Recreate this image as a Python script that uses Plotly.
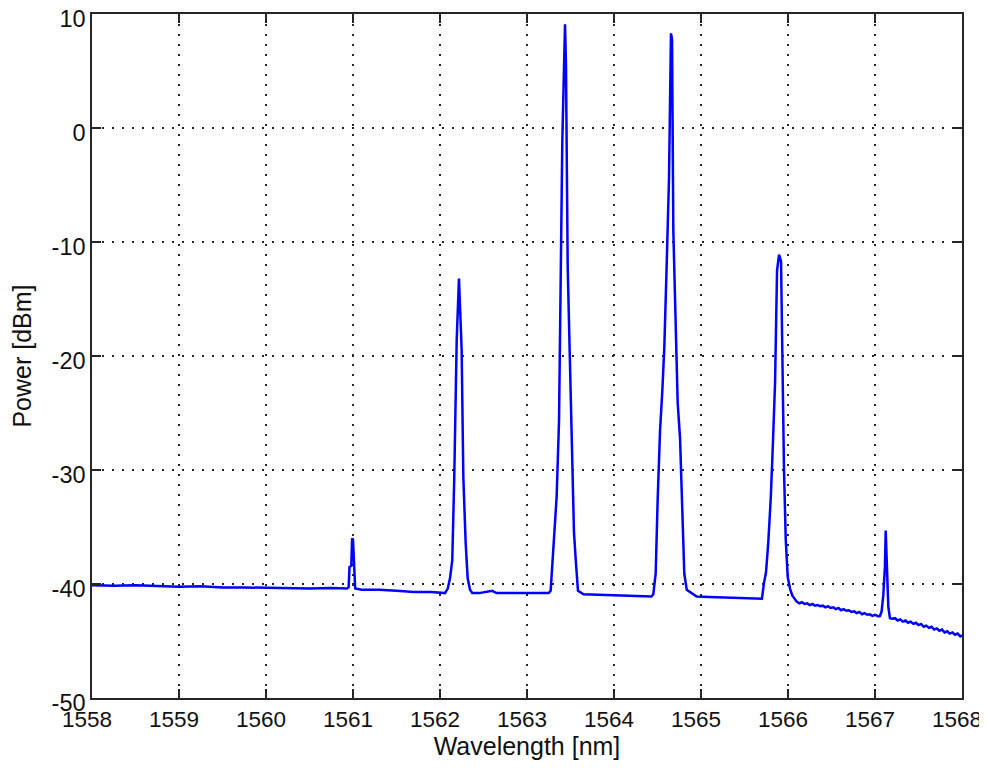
import plotly.graph_objects as go

# Wavelength [nm] and power [dBm]
wavelength_nm = [
    1558.00, 1558.25, 1558.50, 1558.75, 1559.00, 1559.25, 1559.50, 1559.75,
    1560.00, 1560.25, 1560.50, 1560.75, 1560.93,
    # weak peak ~1561.0
    1560.950, 1560.960, 1560.980, 1560.990, 1561.000, 1561.010, 1561.025,
    1561.10, 1561.30, 1561.50, 1561.70, 1561.90, 1562.03,
    # peak ~1562.22
    1562.057, 1562.089, 1562.115, 1562.141, 1562.164, 1562.192, 1562.218,
    1562.249, 1562.268, 1562.295, 1562.318, 1562.345, 1562.371,
    1562.45, 1562.60, 1562.65, 1562.80, 1562.95, 1563.10, 1563.25,
    # peak ~1563.44
    1563.272, 1563.291, 1563.314, 1563.341, 1563.368, 1563.391, 1563.406,
    1563.437, 1563.448, 1563.468, 1563.498, 1563.517, 1563.540, 1563.563,
    1563.586,
    1563.65, 1563.80, 1563.95, 1564.10, 1564.25, 1564.43,
    # peak ~1564.66
    1564.452, 1564.479, 1564.502, 1564.529, 1564.555, 1564.578, 1564.606,
    1564.632, 1564.655, 1564.667, 1564.682, 1564.709, 1564.732, 1564.759,
    1564.785, 1564.808, 1564.836,
    1564.95, 1565.10, 1565.25, 1565.40, 1565.55, 1565.70,
    # peak ~1565.90
    1565.724, 1565.747, 1565.773, 1565.801, 1565.824, 1565.851, 1565.874,
    1565.897, 1565.920, 1565.936, 1565.954, 1565.974, 1565.997, 1566.023,
    1566.049,
    1566.10, 1566.13, 1566.16, 1566.19, 1566.22, 1566.25, 1566.28, 1566.31,
    1566.34, 1566.37, 1566.40, 1566.43, 1566.46, 1566.49, 1566.52, 1566.55,
    1566.58, 1566.61, 1566.64, 1566.67, 1566.70, 1566.73, 1566.76, 1566.79,
    1566.82, 1566.85, 1566.88, 1566.91, 1566.94, 1566.97, 1567.00, 1567.04,
    # weak peak ~1567.12
    1567.057, 1567.076, 1567.095, 1567.114, 1567.123, 1567.134, 1567.153,
    1567.172,
    1567.20, 1567.23, 1567.26, 1567.29, 1567.32, 1567.35, 1567.38, 1567.41,
    1567.44, 1567.47, 1567.50, 1567.53, 1567.56, 1567.59, 1567.62, 1567.65,
    1567.68, 1567.71, 1567.74, 1567.77, 1567.80, 1567.83, 1567.86, 1567.89,
    1567.92, 1567.95, 1567.98, 1568.00,
]

power_dbm = [
    -40.10, -40.15, -40.10, -40.20, -40.25, -40.20, -40.30, -40.30,
    -40.35, -40.40, -40.40, -40.35, -40.40,
    -40.30, -38.50, -38.40, -36.00, -36.10, -38.50, -40.40,
    -40.50, -40.50, -40.60, -40.70, -40.70, -40.80,
    -40.80, -40.40, -39.50, -37.90, -30.60, -18.60, -13.20,
    -19.50, -30.60, -36.40, -39.50, -40.50, -40.80,
    -40.80, -40.60, -40.80, -40.80, -40.80, -40.85, -40.80,
    -40.60, -38.50, -36.00, -32.30, -25.70, -12.30, -1.10,
    9.10, 5.50, -12.30, -23.10, -27.20, -35.50, -38.20,
    -40.60,
    -40.90, -40.95, -41.00, -41.05, -41.10, -41.10,
    -40.90, -39.10, -32.60, -26.60, -23.10, -19.30, -11.90,
    -4.50, 8.30, 7.80, -9.00, -17.40, -24.10, -27.20,
    -34.00, -39.10, -40.50,
    -41.10, -41.15, -41.20, -41.25, -41.30, -41.30,
    -39.90, -39.00, -36.40, -32.60, -28.20, -22.40, -12.50,
    -11.10, -11.70, -23.00, -30.00, -36.10, -39.40, -40.40,
    -41.00,
    -41.55, -41.70, -41.60, -41.75, -41.70, -41.85, -41.75, -41.90,
    -41.85, -41.95, -41.90, -42.05, -41.95, -42.10, -42.05, -42.20,
    -42.10, -42.30, -42.20, -42.35, -42.30, -42.45, -42.40, -42.55,
    -42.45, -42.65, -42.55, -42.70, -42.65, -42.80, -42.70, -42.85,
    -42.80, -42.40, -41.00, -38.50, -35.30, -38.00, -42.00,
    -43.00,
    -43.05, -43.00, -43.20, -43.10, -43.30, -43.20, -43.40, -43.30,
    -43.50, -43.40, -43.60, -43.50, -43.75, -43.65, -43.85, -43.75,
    -44.00, -43.90, -44.10, -44.00, -44.25, -44.15, -44.35, -44.25,
    -44.45, -44.35, -44.60, -44.50, -44.70, -44.75,
]

x_ticks = list(range(1558, 1569))
y_ticks = list(range(-50, 11, 10))

fig = go.Figure()
fig.add_trace(go.Scatter(
    x=wavelength_nm, y=power_dbm, mode="lines",
    line=dict(color="#0000FF", width=2.5),
    showlegend=False, hoverinfo="x+y",
))

font = dict(family="Liberation Sans, Arial, sans-serif", size=23.5, color="#111111")
xfont = dict(family="Liberation Sans, Arial, sans-serif", size=22.5, color="#111111")

axis_common = dict(
    showline=True, linecolor="#262626", linewidth=1.5, mirror="ticks",
    ticks="inside", ticklen=9, tickwidth=1.5, tickcolor="#262626",
    showgrid=True, gridcolor="#262626", gridwidth=1.5, griddash="1.5px,8.5px",
    zeroline=False, automargin=False,
    ticklabeloverflow="allow",
)

# page body adds an 8px offset; margins compensate so the plot area
# sits at x 92..962, y 14..698 of the window
fig.update_layout(
    width=987, height=773,
    margin=dict(l=84, r=33, t=6, b=83),
    paper_bgcolor="white", plot_bgcolor="white",
    font=font,
    xaxis=dict(
        range=[1558, 1568], tickvals=x_ticks, ticktext=[str(v) for v in x_ticks],
        title=dict(text="Wavelength [nm]", font=dict(size=25), standoff=2),
        ticklabelshift=-5, tickfont=xfont,
        **axis_common,
    ),
    yaxis=dict(
        range=[-50, 10], tickvals=y_ticks, ticktext=[str(v) for v in y_ticks],
        title=dict(text="Power [dBm]", font=dict(size=25), standoff=20),
        ticklabelshift=5, tickfont=font,
        **axis_common,
    ),
)

fig.write_html("out.html")
